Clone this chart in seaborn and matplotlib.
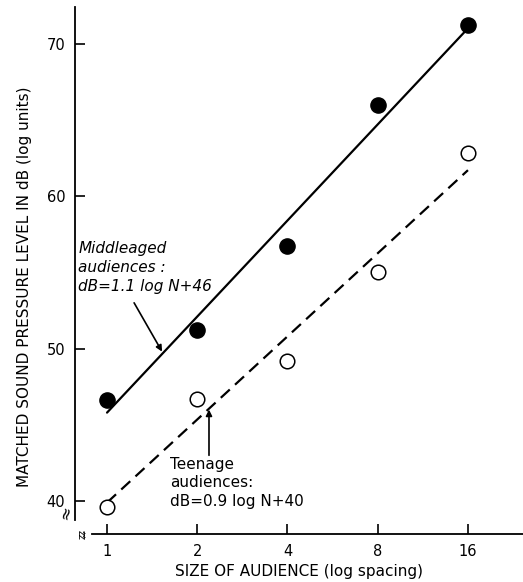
import numpy as np
import pandas as pd
import matplotlib
matplotlib.use("Agg")
import matplotlib.pyplot as plt
import seaborn as sns

# ---- data ----
audience_size = [1, 2, 4, 8, 16]
middleaged_db = [46.6, 51.2, 56.7, 66.0, 71.2]
teenage_db = [39.6, 46.7, 49.2, 55.0, 62.8]
fit_x = [1, 16]
middleaged_fit = [45.8, 71.0]
teenage_fit = [39.9, 61.7]
y_ticks = [40, 50, 60, 70]
x_tick_labels = ["1", "2", "4", "8", "16"]

sns.set_theme(style="white")
plt.rcParams['font.family'] = ['DejaVu Sans']
plt.rcParams['text.color'] = 'black'
plt.rcParams['axes.labelcolor'] = 'black'

fig = plt.figure(figsize=(5.23, 5.82), dpi=100)
ax = fig.add_axes([75/523, 48/582, 448/523, 527/582])

pts = pd.DataFrame({
    "N": audience_size * 2,
    "dB": middleaged_db + teenage_db,
    "group": ["Middleaged"] * 5 + ["Teenage"] * 5,
})
sns.scatterplot(data=pts[pts.group == "Middleaged"], x="N", y="dB", ax=ax,
                s=120, color="black", edgecolor="black", linewidth=1, zorder=3)
sns.scatterplot(data=pts[pts.group == "Teenage"], x="N", y="dB", ax=ax,
                s=110, facecolor="white", edgecolor="black", linewidth=1.1, zorder=3)

fits = pd.DataFrame({"N": fit_x * 2, "dB": middleaged_fit + teenage_fit,
                     "group": ["Middleaged"] * 2 + ["Teenage"] * 2})
sns.lineplot(data=fits[fits.group == "Middleaged"], x="N", y="dB", ax=ax,
             color="black", linewidth=1.6, zorder=2)
sns.lineplot(data=fits[fits.group == "Teenage"], x="N", y="dB", ax=ax,
             color="black", linewidth=1.6, dashes=False, zorder=2)
ax.lines[-1].set_dashes((5.5, 3.2))

ax.set_xscale("log", base=2)
ax.set_xlim(2 ** -0.355, 2 ** 4.61)
ax.set_ylim(37.84, 72.4)
ax.set_xticks(audience_size)
ax.set_xticklabels(x_tick_labels)
ax.minorticks_off()
ax.set_yticks(y_ticks)

for s in ["top", "right"]:
    ax.spines[s].set_visible(False)
for s in ["left", "bottom"]:
    ax.spines[s].set_color("black")
    ax.spines[s].set_linewidth(1.3)
ax.spines["left"].set_bounds(38.75, 72.4)
ax.spines["bottom"].set_bounds(2 ** -0.166, 2 ** 4.61)

ax.tick_params(axis="both", direction="in", length=7, width=1.2, colors="black",
               labelsize=10.5, bottom=True, left=True)
ax.tick_params(axis="y", pad=7)
ax.tick_params(axis="x", pad=7)

ax.set_xlabel("SIZE OF AUDIENCE (log spacing)", fontsize=11, labelpad=4)
ax.set_ylabel("MATCHED SOUND PRESSURE LEVEL IN dB (log units)", fontsize=11, labelpad=10)
ax.yaxis.set_label_coords(-0.095, 0.47)

# break marks
ax.text(-0.022, 0.04, "≈", transform=ax.transAxes, fontsize=12, rotation=75,
        ha="center", va="center", clip_on=False)
ax.text(0.015, 0.0, "ʑʑ", transform=ax.transAxes, fontsize=7, rotation=90,
        ha="center", va="center", clip_on=False)

# annotations
ax.text(2 ** -0.32, 55.3, "Middleaged\naudiences :\ndB=1.1 log N+46", fontsize=11,
        style="italic", ha="left", va="center", linespacing=1.35)
ax.annotate("", xy=(2 ** 0.61, 49.8), xytext=(2 ** 0.30, 53.0),
            arrowprops=dict(arrowstyle="-|>", color="black", lw=1.2,
                            mutation_scale=9, shrinkA=0, shrinkB=0))
ax.text(2 ** 0.70, 41.2, "Teenage\naudiences:\ndB=0.9 log N+40", fontsize=11,
        ha="left", va="center", linespacing=1.3)
ax.annotate("", xy=(2 ** 1.13, 46.0), xytext=(2 ** 1.13, 43.0),
            arrowprops=dict(arrowstyle="-|>", color="black", lw=1.2,
                            mutation_scale=9, shrinkA=0, shrinkB=0))

fig.savefig("out.png", dpi=100)
